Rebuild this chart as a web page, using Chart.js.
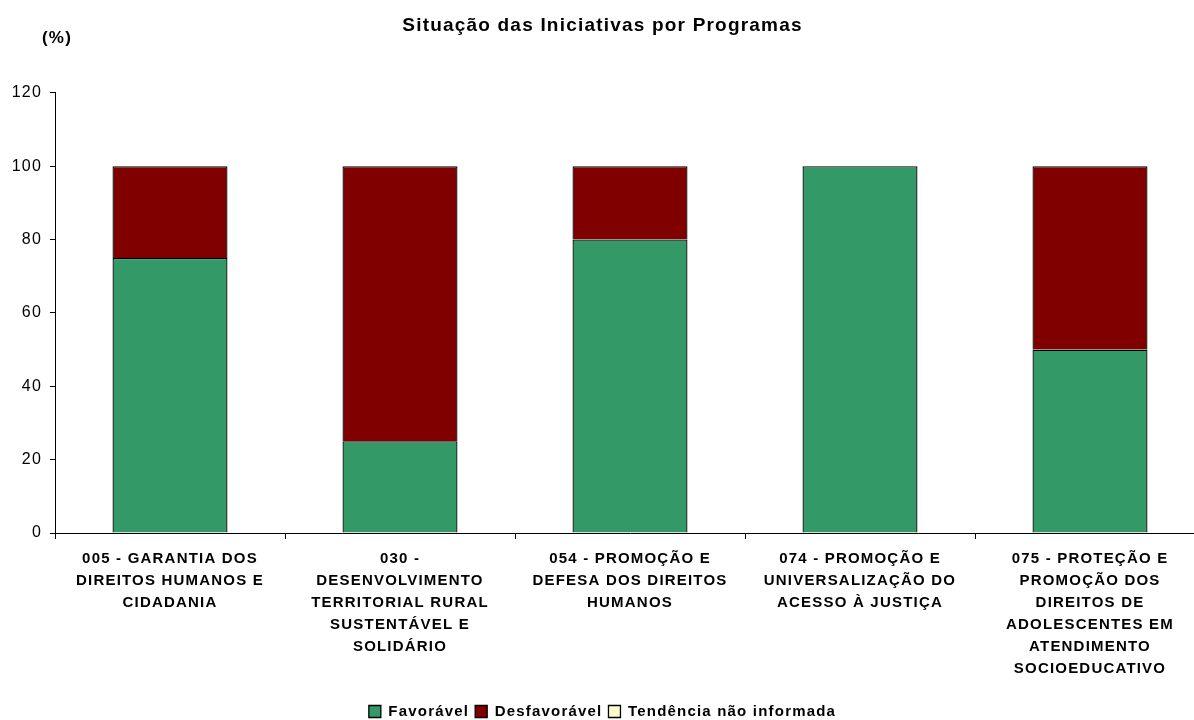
<!DOCTYPE html>
<html>
<head>
<meta charset="utf-8">
<script src="https://cdn.jsdelivr.net/npm/chart.js@4/dist/chart.umd.min.js"></script>
<style>
  html, body { margin: 0; padding: 0; background: #fff; overflow: hidden; }
  #wrap { position: relative; width: 1210px; height: 729px; }
</style>
</head>
<body>
<div id="wrap"><canvas id="grafico"></canvas></div>
<script>
// categorias (programas) com as quebras de linha do original
var programas = [
    ['005 - GARANTIA DOS', 'DIREITOS HUMANOS E', 'CIDADANIA'],
    ['030 -', 'DESENVOLVIMENTO', 'TERRITORIAL RURAL', 'SUSTENTÁVEL E', 'SOLIDÁRIO'],
    ['054 - PROMOÇÃO E', 'DEFESA DOS DIREITOS', 'HUMANOS'],
    ['074 - PROMOÇÃO E', 'UNIVERSALIZAÇÃO DO', 'ACESSO À JUSTIÇA'],
    ['075 - PROTEÇÃO E', 'PROMOÇÃO DOS', 'DIREITOS DE', 'ADOLESCENTES EM', 'ATENDIMENTO', 'SOCIOEDUCATIVO']
];
var favoravel = [75, 25, 80, 100, 50];
var desfavoravel = [25, 75, 20, 0, 50];
var naoInformada = [0, 0, 0, 0, 0];
var ticksY = [0, 20, 40, 60, 80, 100, 120];

var fonte = '"Liberation Sans", Arial, sans-serif';

document.addEventListener('DOMContentLoaded', function () {
    // texto do Excel sai um pouco espaçado
    function espacar(chart) { chart.ctx.letterSpacing = '1.2px'; }
    var espacamento = {
        id: 'espacamento',
        beforeUpdate: espacar,
        beforeLayout: espacar,
        beforeDraw: espacar
    };

    // rótulo "(%)" acima do eixo
    var rotuloEixo = {
        id: 'rotuloEixo',
        afterDraw: function (chart) {
            var ctx = chart.ctx;
            ctx.save();
            ctx.font = 'bold 17px ' + fonte;
            ctx.fillStyle = '#000';
            ctx.textAlign = 'left';
            ctx.textBaseline = 'middle';
            ctx.fillText('(%)', 42, 38);
            ctx.restore();
        }
    };

    var ctx = document.getElementById('grafico').getContext('2d');
    new Chart(ctx, {
        type: 'bar',
        data: {
            labels: programas,
            datasets: [
                { label: 'Favorável', data: favoravel, backgroundColor: '#339966', borderColor: '#000', borderWidth: 1.3 },
                { label: 'Desfavorável', data: desfavoravel, backgroundColor: '#800000', borderColor: '#000', borderWidth: 1.3 },
                { label: 'Tendência não informada', data: naoInformada, backgroundColor: '#FFFFCC', borderColor: '#000', borderWidth: 1.3 }
            ]
        },
        options: {
            responsive: true,
            maintainAspectRatio: false,
            animation: false,
            categoryPercentage: 1,
            barPercentage: 0.5,
            layout: { padding: { top: 0, left: 0, right: 5, bottom: 0 } },
            plugins: {
                title: {
                    display: true,
                    text: 'Situação das Iniciativas por Programas',
                    color: '#000',
                    font: { family: fonte, size: 19, weight: 'bold' },
                    padding: { top: 14, bottom: 56 }
                },
                legend: {
                    position: 'bottom',
                    labels: {
                        color: '#000',
                        boxWidth: 12,
                        boxHeight: 12,
                        padding: 6,
                        font: { family: fonte, size: 15, weight: 'bold' }
                    }
                },
                tooltip: { enabled: false }
            },
            scales: {
                x: {
                    stacked: true,
                    afterFit: function (axis) { axis.height = 165; },
                    border: { display: true, color: '#000', width: 1 },
                    grid: { display: true, drawOnChartArea: false, drawTicks: true, tickLength: 6, color: '#000' },
                    ticks: {
                        color: '#000',
                        maxRotation: 0,
                        autoSkip: false,
                        padding: 9,
                        font: { family: fonte, size: 15, weight: 'bold', lineHeight: '22px' }
                    }
                },
                y: {
                    stacked: true,
                    min: 0,
                    max: 120,
                    afterFit: function (axis) { axis.width = 55; },
                    afterBuildTicks: function (axis) {
                        axis.ticks = ticksY.map(function (v) { return { value: v }; });
                    },
                    border: { display: true, color: '#000', width: 1 },
                    grid: { display: true, drawOnChartArea: false, drawTicks: true, tickLength: 5, color: '#000' },
                    ticks: {
                        color: '#000',
                        padding: 8,
                        font: { family: fonte, size: 16 }
                    }
                }
            }
        },
        plugins: [espacamento, rotuloEixo]
    });
});
</script>
</body>
</html>
